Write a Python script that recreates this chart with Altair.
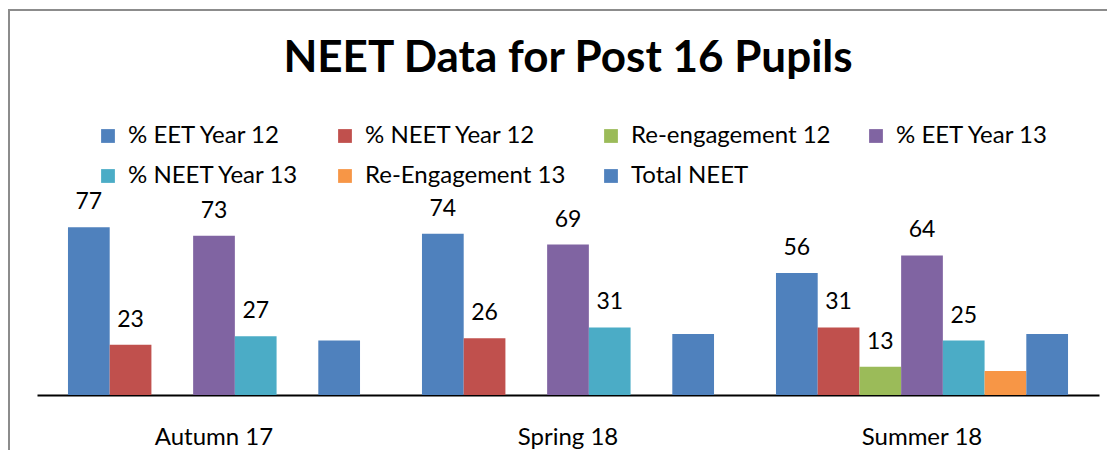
import altair as alt
import pandas as pd

seasons = ["Autumn 17", "Spring 18", "Summer 18"]
series = ["% EET Year 12", "% NEET Year 12", "Re-engagement 12", "% EET Year 13",
          "% NEET Year 13", "Re-Engagement 13", "Total NEET"]
colors = ["#4F81BD", "#C0504D", "#9BBB59", "#8064A2", "#4BACC6", "#F79646", "#4F81BD"]
labelled = [True, True, True, True, True, False, False]

eet12 = [77, 74, 56]
neet12 = [23, 26, 31]
reeng12 = [None, None, 13]
eet13 = [73, 69, 64]
neet13 = [27, 31, 25]
reeng13 = [None, None, 11]
total_neet = [25, 28, 28]

values = [eet12, neet12, reeng12, eet13, neet13, reeng13, total_neet]

rows = []
for s_i, s in enumerate(series):
    for k, season in enumerate(seasons):
        v = values[s_i][k]
        if v is None:
            continue
        rows.append({"season": season, "series": s, "value": v,
                     "label": str(v) if labelled[s_i] else ""})
df = pd.DataFrame(rows)

FONT = "Lato"

x = alt.X("season:N", sort=seasons, title=None,
          scale=alt.Scale(paddingInner=0.175, paddingOuter=0.0875),
          axis=alt.Axis(labelAngle=0, ticks=False, domainColor="#000000", domainWidth=2,
                        labelFontSize=24, labelFont=FONT, labelColor="#000000",
                        labelPadding=30, grid=False))
xo = alt.XOffset("series:N", sort=series, scale=alt.Scale(paddingInner=0, paddingOuter=0))
y = alt.Y("value:Q", axis=None, scale=alt.Scale(domain=[0, 100]))

bars = alt.Chart(df).mark_bar().encode(
    x=x, xOffset=xo, y=y,
    color=alt.Color("series:N", sort=series,
                    scale=alt.Scale(domain=series, range=colors),
                    legend=alt.Legend(title=None, orient="none", legendX=59, legendY=-53,
                                      direction="horizontal",
                                      columns=4, symbolType="square", symbolSize=190,
                                      symbolStrokeWidth=0, labelFontSize=24, labelFont=FONT,
                                      labelColor="#000000", labelOffset=8, gridAlign="each",
                                      columnPadding=33, rowPadding=16, padding=0,
                                      labelLimit=300))
)

text = alt.Chart(df).mark_text(dy=-18, baseline="alphabetic", fontSize=23, font=FONT,
                               color="#000000").encode(
    x=x, xOffset=xo, y=y, text="label:N"
)

border = alt.Chart(pd.DataFrame({"a": [0]})).mark_rect(
    filled=False, stroke="#8C8C8C", strokeWidth=2
).encode(x=alt.value(-28), x2=alt.value(1100), y=alt.value(-167), y2=alt.value(320))

chart = alt.layer(border, bars, text).properties(
    width=1062, height=218,
    title=alt.TitleParams("NEET Data for Post 16 Pupils", font=FONT, fontSize=44,
                          fontWeight="bold", color="#000000", anchor="middle", offset=-72),
    autosize=alt.AutoSizeParams(type="none"),
    padding={"left": 29, "top": 169, "right": 8, "bottom": 56},
).configure_view(stroke=None)

chart.save("out.html", embed_options={"renderer": "svg", "actions": False})
